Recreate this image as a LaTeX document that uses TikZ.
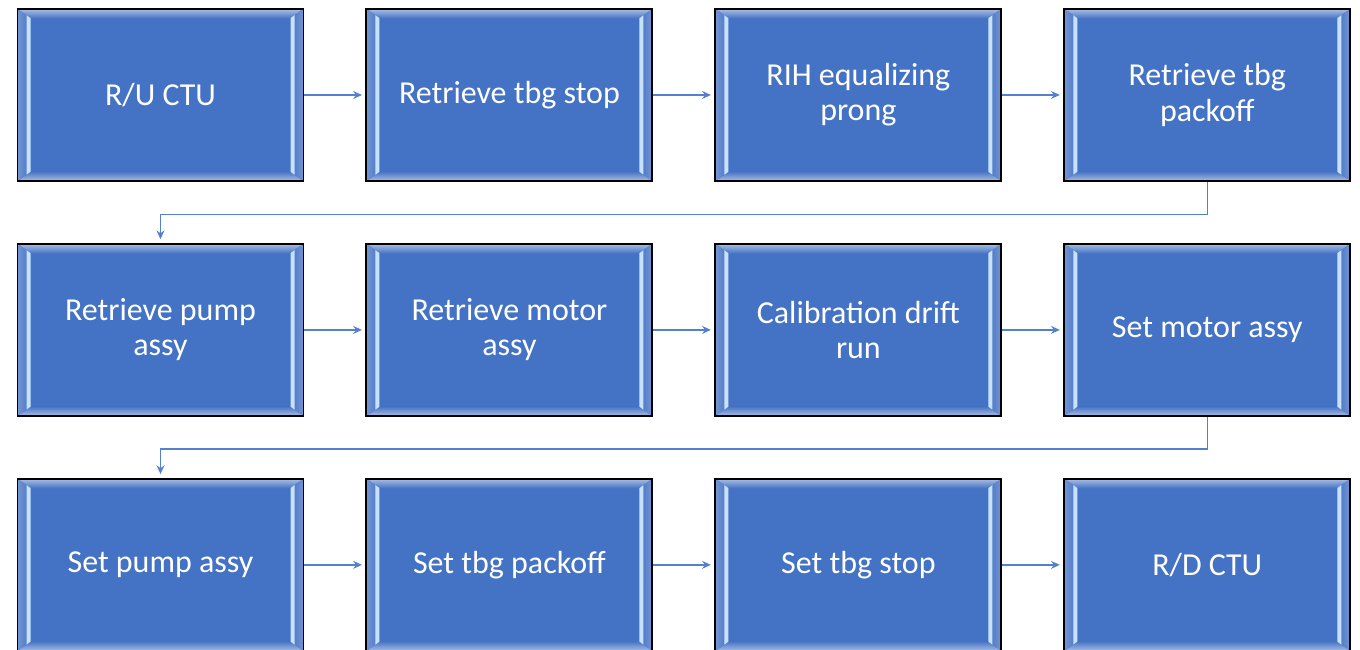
\documentclass[tikz,border=0pt]{standalone}
\usepackage{fontspec}
\setmainfont{Carlito}
\usetikzlibrary{positioning, arrows.meta, calc}

\definecolor{boxblue}{RGB}{68,114,196}
\definecolor{bevellight}{RGB}{200,226,252}
\definecolor{flowblue}{RGB}{84,128,206}

\begin{document}
\begin{tikzpicture}[
    node distance=1.21cm and 1.22cm,
    every node/.style={font=\fontsize{18.2}{20}\selectfont},
    stepbox/.style={rectangle, draw=black, line width=1.1pt, fill=boxblue, text=white, align=center,
        minimum width=5.72cm, minimum height=3.45cm,
        path picture={
            \coordinate (nw) at (path picture bounding box.north west);
            \coordinate (ne) at (path picture bounding box.north east);
            \coordinate (sw) at (path picture bounding box.south west);
            \coordinate (se) at (path picture bounding box.south east);
            % bevel edges
            \shade[top color=boxblue!45!white, bottom color=boxblue] (nw) -- (ne) -- ++(-0.28,-0.2) -- ($(nw)+(0.28,-0.2)$) -- cycle;
            \shade[top color=boxblue, bottom color=boxblue!45!white] (sw) -- (se) -- ++(-0.28,0.2) -- ($(sw)+(0.28,0.2)$) -- cycle;
            \shade[left color=boxblue!75!white, right color=boxblue] (nw) -- ++(0.28,-0.2) -- ($(sw)+(0.28,0.2)$) -- (sw) -- cycle;
            \shade[left color=boxblue, right color=boxblue!75!white] (ne) -- ++(-0.28,-0.2) -- ($(se)+(-0.28,0.2)$) -- (se) -- cycle;
            % highlights
            \fill[bevellight] ($(nw)+(0.18,-0.13)$) -- ($(nw)+(0.26,-0.19)$) -- ($(sw)+(0.26,0.19)$) -- ($(sw)+(0.18,0.13)$) -- cycle;
            \fill[bevellight] ($(ne)+(-0.18,-0.13)$) -- ($(ne)+(-0.26,-0.19)$) -- ($(se)+(-0.26,0.19)$) -- ($(se)+(-0.18,0.13)$) -- cycle;
        }},
    flow/.style={-{Stealth[length=5pt, width=4.5pt]}, line width=0.8pt, flowblue, shorten >=2pt},
]
\useasboundingbox (0,0) rectangle (27.2,13);

% Row 1
\node[stepbox] (ructu) at (3.21,11.1) {R/U CTU};
\node[stepbox, right=of ructu] (tbgstop) {Retrieve tbg stop};
\node[stepbox, right=of tbgstop] (prong) {RIH equalizing\\prong};
\node[stepbox, right=of prong] (packoff) {Retrieve tbg\\packoff};

% Row 2
\node[stepbox, below=of ructu] (pump) {Retrieve pump\\assy};
\node[stepbox, right=of pump] (motor) {Retrieve motor\\assy};
\node[stepbox, right=of motor] (drift) {Calibration drift\\run};
\node[stepbox, right=of drift] (setmotor) {Set motor assy};

% Row 3
\node[stepbox, below=of pump] (setpump) {Set pump assy};
\node[stepbox, right=of setpump] (setpackoff) {Set tbg packoff};
\node[stepbox, right=of setpackoff] (setstop) {Set tbg stop};
\node[stepbox, right=of setstop] (rdctu) {R/D CTU};

% Arrows
\draw[flow] (ructu) -- (tbgstop);
\draw[flow] (tbgstop) -- (prong);
\draw[flow] (prong) -- (packoff);
\draw[flow] (packoff.south) -- ++(0,-0.64) -| (pump.north);
\draw[flow] (pump) -- (motor);
\draw[flow] (motor) -- (drift);
\draw[flow] (drift) -- (setmotor);
\draw[flow] (setmotor.south) -- ++(0,-0.64) -| (setpump.north);
\draw[flow] (setpump) -- (setpackoff);
\draw[flow] (setpackoff) -- (setstop);
\draw[flow] (setstop) -- (rdctu);

\end{tikzpicture}
\end{document}
